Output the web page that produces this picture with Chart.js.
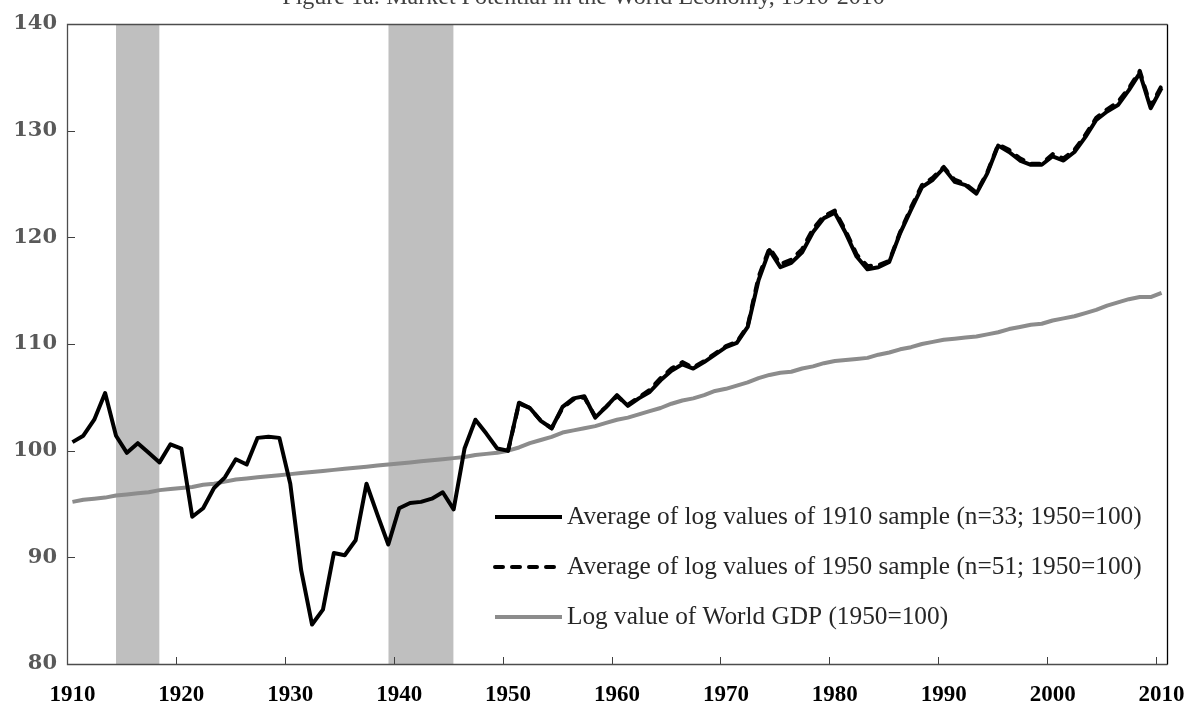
<!DOCTYPE html>
<html>
<head>
<meta charset="utf-8">
<script src="https://cdn.jsdelivr.net/npm/chart.js@4/dist/chart.umd.min.js"></script>
<style>
  html, body { margin: 0; padding: 0; background: #fff; }
  #wrap { width: 1186px; height: 705px; }
</style>
</head>
<body>
<div id="wrap"><canvas id="chart" width="1186" height="705"></canvas></div>
<script>
// Years on the category axis
const firstYear = 1910;
const lastYear = 2010;
const years = [];
for (let y = firstYear; y <= lastYear; y++) years.push(y);

// Average of log values, 1910 sample (1910-2010)
const sample1910 = [
  100.8, 101.4, 102.9, 105.4, 101.4, 99.8, 100.7, 99.8, 98.9, 100.6,
  100.2, 93.8, 94.6, 96.5, 97.5, 99.2, 98.7, 101.2, 101.3, 101.2,
  96.9, 88.8, 83.7, 85.1, 90.4, 90.2, 91.6, 96.9, 94.0, 91.2,
  94.6, 95.1, 95.2, 95.5, 96.1, 94.5, 100.2, 102.9, 101.6, 100.2,
  100.0, 104.5, 104.0, 102.8, 102.1, 104.1, 104.9, 105.1, 103.1, 104.1,
  105.2, 104.2, 104.9, 105.5, 106.6, 107.5, 108.1, 107.7, 108.3, 109.0,
  109.7, 110.1, 111.6, 116.0, 118.8, 117.2, 117.6, 118.6, 120.5, 121.8,
  122.3, 120.4, 118.2, 117.0, 117.2, 117.7, 120.4, 122.6, 124.7, 125.4,
  126.5, 125.2, 124.9, 124.1, 126.0, 128.6, 128.0, 127.2, 126.8, 126.8,
  127.6, 127.2, 128.0, 129.4, 131.0, 131.8, 132.4, 133.8, 135.4, 132.1,
  134.0
];

// Average of log values, 1950 sample (1950-2010)
const sample1950Start = 1950;
const sample1950 = [
  100.0, 104.4, 104.0, 102.8, 102.1, 104.0, 104.8, 105.0, 103.2, 104.1,
  105.1, 104.3, 105.0, 105.7, 106.8, 107.7, 108.3, 107.8, 108.4, 109.1,
  109.8, 110.2, 111.7, 116.3, 119.0, 117.5, 117.9, 118.9, 120.8, 122.0,
  122.5, 120.6, 118.4, 117.3, 117.4, 117.8, 120.5, 122.8, 124.9, 125.6,
  126.6, 125.4, 125.0, 124.2, 126.1, 128.7, 128.2, 127.4, 126.9, 126.9,
  127.8, 127.4, 128.2, 129.6, 131.2, 132.0, 132.7, 134.0, 135.6, 132.3,
  134.2
];

// Log value of World GDP (1910-2010)
const worldGdp = [
  95.2, 95.4, 95.5, 95.6, 95.8, 95.9, 96.0, 96.1, 96.3, 96.4,
  96.5, 96.6, 96.8, 96.9, 97.1, 97.3, 97.4, 97.5, 97.6, 97.7,
  97.8, 97.9, 98.0, 98.1, 98.2, 98.3, 98.4, 98.5, 98.6, 98.7,
  98.8, 98.9, 99.0, 99.1, 99.2, 99.3, 99.4, 99.6, 99.7, 99.8,
  100.0, 100.3, 100.7, 101.0, 101.3, 101.7, 101.9, 102.1, 102.3, 102.6,
  102.9, 103.1, 103.4, 103.7, 104.0, 104.4, 104.7, 104.9, 105.2, 105.6,
  105.8, 106.1, 106.4, 106.8, 107.1, 107.3, 107.4, 107.7, 107.9, 108.2,
  108.4, 108.5, 108.6, 108.7, 109.0, 109.2, 109.5, 109.7, 110.0, 110.2,
  110.4, 110.5, 110.6, 110.7, 110.9, 111.1, 111.4, 111.6, 111.8, 111.9,
  112.2, 112.4, 112.6, 112.9, 113.2, 113.6, 113.9, 114.2, 114.4, 114.4,
  114.8
];

// War periods shown as shaded bands
const warStarts = [1914, 1939];
const warEnds = [1918, 1945];

const yMin = 80, yMax = 140, yStep = 10;
const xTickEvery = 10;

const seriesLabels = [
  'Average of log values of 1910 sample (n=33; 1950=100)',
  'Average of log values of 1950 sample (n=51; 1950=100)',
  'Log value of World GDP (1950=100)'
];

const pad1950 = years.map(y => y < sample1950Start ? null : sample1950[y - sample1950Start]);

const shadeSets = warStarts.map((s, k) => ({
  label: 'war' + k,
  data: years.map(y => (y >= s && y <= warEnds[k]) ? yMax : null),
  borderWidth: 0,
  pointRadius: 0,
  backgroundColor: '#bfbfbf',
  fill: 'start',
  spanGaps: false
}));

const lineBase = { pointRadius: 0, borderWidth: 4, tension: 0, fill: false, borderJoinStyle: 'round' };

// inside tick marks, plot frame and legend
const framePlugin = {
  id: 'framePlugin',
  afterDatasetsDraw(chart) {
    const ctx = chart.ctx, a = chart.chartArea;
    const xs = chart.scales.x, ys = chart.scales.y;
    ctx.save();
    ctx.strokeStyle = '#404040';
    ctx.lineWidth = 1;
    ctx.beginPath();
    years.forEach((y, i) => {
      if (y % xTickEvery === 0 && i > 0) {
        const px = Math.round(xs.getPixelForValue(i - 0.5)) + 0.5;
        ctx.moveTo(px, a.bottom);
        ctx.lineTo(px, a.bottom - 7);
      }
    });
    for (let v = yMin + yStep; v < yMax; v += yStep) {
      const py = Math.round(ys.getPixelForValue(v)) + 0.5;
      ctx.moveTo(a.left, py);
      ctx.lineTo(a.left + 8, py);
    }
    ctx.stroke();
    const l = Math.round(a.left) + 0.5, t = Math.round(a.top) + 0.5;
    const r = Math.round(a.right) + 0.5, b = Math.round(a.bottom) + 0.5;
    ctx.lineWidth = 1.3;
    ctx.strokeStyle = '#4d4d4d';
    ctx.beginPath();
    ctx.moveTo(r, t); ctx.lineTo(l, t); ctx.lineTo(l, b); ctx.lineTo(r, b);
    ctx.stroke();
    ctx.strokeStyle = '#000000';
    ctx.beginPath();
    ctx.moveTo(r, t); ctx.lineTo(r, b);
    ctx.stroke();
    ctx.restore();
  },
  afterDraw(chart, args, opts) {
    const ctx = chart.ctx;
    ctx.save();
    ctx.font = opts.font;
    ctx.textBaseline = 'middle';
    ctx.fillStyle = opts.color;
    opts.order.forEach((di, row) => {
      const ds = chart.data.datasets[di];
      const y = opts.top + row * opts.rowGap;
      ctx.beginPath();
      ctx.strokeStyle = ds.borderColor;
      ctx.lineWidth = ds.borderWidth;
      ctx.lineCap = ds.borderCapStyle || 'butt';
      ctx.setLineDash(ds.borderDash || []);
      ctx.moveTo(opts.left, y);
      ctx.lineTo(opts.left + opts.lineLen, y);
      ctx.stroke();
      ctx.setLineDash([]);
      ctx.fillText(ds.label, opts.left + opts.lineLen + 5, y);
    });
    ctx.restore();
  }
};

new Chart(document.getElementById('chart').getContext('2d'), {
  type: 'line',
  data: {
    labels: years,
    datasets: [
      Object.assign({}, lineBase, {
        label: seriesLabels[1],
        data: pad1950,
        borderColor: '#000000',
        borderDash: [8, 9],
        borderCapStyle: 'round'
      }),
      Object.assign({}, lineBase, {
        label: seriesLabels[0],
        data: sample1910,
        borderColor: '#000000'
      }),
      Object.assign({}, lineBase, {
        label: seriesLabels[2],
        data: worldGdp,
        borderColor: '#8c8c8c'
      }),
      ...shadeSets
    ]
  },
  options: {
    responsive: false,
    devicePixelRatio: 1,
    animation: false,
    layout: { padding: { left: 0, right: 19, top: 0, bottom: 0 } },
    plugins: {
      legend: { display: false },
      tooltip: { enabled: false },
      title: {
        display: true,
        text: 'Figure 1a: Market Potential in the World Economy, 1910-2010',
        color: '#404040',
        font: { family: 'Liberation Serif', size: 24, weight: 'normal', lineHeight: 1.2 },
        padding: { top: -16.4, bottom: 11.6 }
      },
      framePlugin: {
        order: [1, 0, 2],
        left: 495,
        lineLen: 67,
        top: 517,
        rowGap: 50,
        font: '25.3px "Liberation Serif"',
        color: '#262626'
      }
    },
    scales: {
      x: {
        type: 'category',
        offset: true,
        grid: { display: false, offset: true },
        border: { display: false },
        ticks: {
          autoSkip: false,
          maxRotation: 0,
          padding: 9,
          color: '#000000',
          font: { family: 'Liberation Serif', size: 23, weight: 'bold', lineHeight: 1.2 },
          callback: (v, i) => years[i] % xTickEvery === 0 ? String(years[i]) : null
        },
        afterFit: s => { s.height = 41; s.paddingLeft = 0; s.paddingRight = 0; }
      },
      y: {
        min: yMin,
        max: yMax,
        grid: { display: false, drawTicks: false },
        border: { display: false },
        ticks: {
          stepSize: yStep,
          padding: 10,
          color: '#595959',
          font: { family: 'DejaVu Serif', size: 21, weight: 'bold' }
        },
        afterFit: s => { s.width = 67; }
      }
    }
  },
  plugins: [framePlugin]
});
</script>
</body>
</html>
